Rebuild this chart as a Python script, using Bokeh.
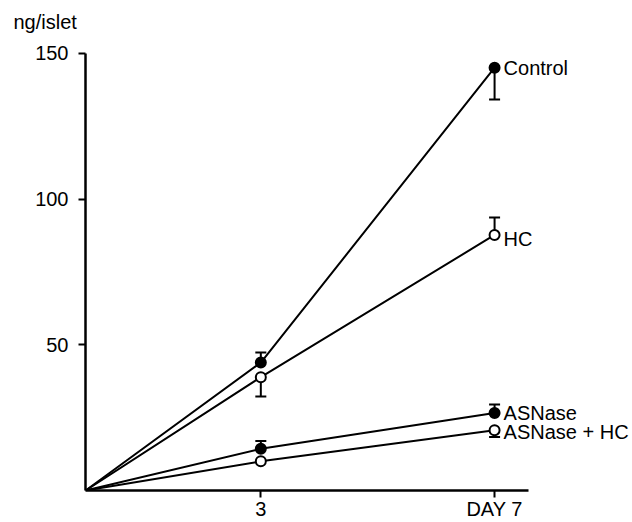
from bokeh.plotting import figure
from bokeh.models import FixedTicker, Range1d
from bokeh.core.properties import value
from bokeh.embed import file_html
from bokeh.resources import INLINE

# ---- data ----
days = [0, 3, 7]
series_names = ["Control", "HC", "ASNase", "ASNase + HC"]
control = [0, 43.9, 145.1]
hc = [0, 38.9, 87.7]
asnase = [0, 14.3, 26.6]
asnase_hc = [0, 10.0, 20.7]
filled = [True, False, True, False]

# error-bar ends (None = no bar drawn)
control_err = [None, 47.4, 134.2]
hc_err = [None, 32.3, 93.7]
asnase_err = [None, 17.0, 29.5]
asnase_hc_err = [None, None, 18.4]

y_ticks = [50, 100, 150]
x_ticks = [3, 7]
x_tick_labels = {3: "3", 7: "DAY 7"}
y_unit = "ng/islet"

label_dy = [0, 4, 0, 2]  # vertical pixel nudges of series labels (down = +)

FONT = "Liberation Sans"
FS = "20px"

p = figure(width=632, height=522, output_backend="svg", toolbar_location=None,
           x_range=Range1d(0, 9.36), y_range=Range1d(0, 156.5),
           min_border_left=85, min_border_right=0, min_border_top=34, min_border_bottom=31)
p.outline_line_color = None
p.grid.visible = False
p.background_fill_color = "white"
p.border_fill_color = "white"

p.title.text = y_unit
p.title.align = "left"
p.title.offset = -72
p.title.standoff = 4
p.title.text_font = FONT
p.title.text_font_size = FS
p.title.text_font_style = "normal"
p.title.text_color = "black"

for ax in (p.xaxis[0], p.yaxis[0]):
    ax.axis_line_width = 2.5
    ax.axis_line_color = "black"
    ax.major_tick_line_width = 2
    ax.major_tick_line_color = "black"
    ax.minor_tick_line_color = None
    ax.major_tick_in = 0
    ax.major_label_text_font = FONT
    ax.major_label_text_font_size = FS
    ax.major_label_text_color = "black"

p.yaxis[0].ticker = FixedTicker(ticks=y_ticks)
p.yaxis[0].bounds = (0, 150)
p.yaxis[0].major_tick_out = 7
p.yaxis[0].major_label_standoff = 10
p.xaxis[0].ticker = FixedTicker(ticks=x_ticks)
p.xaxis[0].major_label_overrides = x_tick_labels
p.xaxis[0].bounds = (0, 7.58)
p.xaxis[0].major_tick_out = 7
p.xaxis[0].major_label_standoff = 0

all_vals = [control, hc, asnase, asnase_hc]
all_err = [control_err, hc_err, asnase_err, asnase_hc_err]

# error bars
for vals, errs in zip(all_vals, all_err):
    xs0, ys0, ys1 = [], [], []
    for d, v, e in zip(days, vals, errs):
        if e is not None:
            xs0.append(d); ys0.append(v); ys1.append(e)
    if xs0:
        p.segment(x0=xs0, y0=ys0, x1=xs0, y1=ys1, line_color="black", line_width=2)
        p.scatter(xs0, ys1, marker="dash", size=11, line_color="black", line_width=2)

# lines and markers
for vals, fill in zip(all_vals, filled):
    p.line(days, vals, line_color="black", line_width=2)
    p.scatter(days[1:], vals[1:], marker="circle", size=10,
              fill_color="black" if fill else "white", line_color="black", line_width=2)

# series labels
for name, vals, dy in zip(series_names, all_vals, label_dy):
    p.text(x=[days[-1]], y=[vals[-1]], text=[name], x_offset=9, y_offset=dy,
           text_font=value(FONT), text_font_size=FS, text_color="black",
           text_baseline="middle", text_align="left")

open("out.html", "w").write(file_html(p, INLINE))
